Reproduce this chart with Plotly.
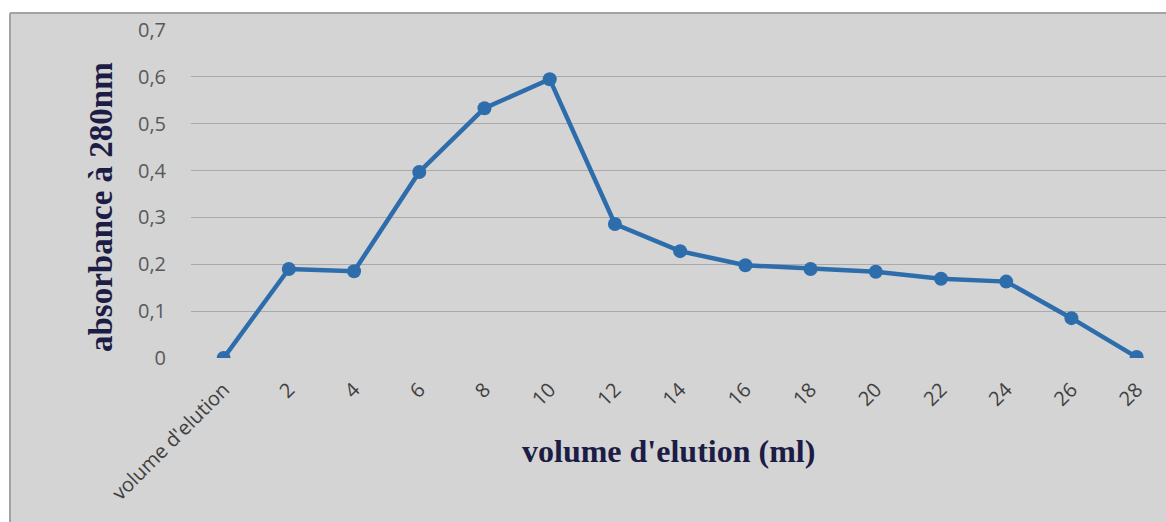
import plotly.graph_objects as go

categories = ["volume d'elution", "2", "4", "6", "8", "10", "12", "14", "16", "18",
              "20", "22", "24", "26", "28"]
absorbance = [0.0, 0.19, 0.185, 0.397, 0.533, 0.595, 0.286, 0.228, 0.198, 0.19,
              0.184, 0.169, 0.163, 0.085, 0.002]
y_tickvals = [0, 0.1, 0.2, 0.3, 0.4, 0.5, 0.6, 0.7]
y_ticktext = ["0", "0,1", "0,2", "0,3", "0,4", "0,5", "0,6", "0,7"]

W, H = 1166, 522
ML, MR, MT, MB = 191, 0, 30, 164
PW, PH = W - ML - MR, H - MT - MB

def px(x):
    return (x - ML) / PW

def py(y):
    return (H - MB - y) / PH

BG = "#d4d4d4"
NAVY = "#1c1c44"

fig = go.Figure()
fig.add_trace(go.Scatter(
    x=list(range(len(categories))), y=absorbance, mode="lines+markers",
    line=dict(color="#2e6dab", width=4.5),
    marker=dict(color="#2e6dab", size=14),
    showlegend=False,
))

fig.update_layout(
    width=W, height=H,
    margin=dict(l=ML, r=MR, t=MT, b=MB),
    paper_bgcolor=BG, plot_bgcolor=BG,
    xaxis=dict(
        range=[-0.5, 14.45], tickmode="array",
        tickvals=list(range(len(categories))), ticktext=categories,
        tickangle=-45, showgrid=False, zeroline=False, showline=False,
        ticks="", tickfont=dict(family="Open Sans, Calibri, sans-serif", size=20, color="#404040"),
        ticklabelstandoff=15,
    ),
    yaxis=dict(
        range=[0, 0.7], tickmode="array", tickvals=y_tickvals, ticktext=y_ticktext,
        showgrid=True, gridcolor="#aaaaaa", gridwidth=1.2, zeroline=False,
        showline=False, ticks="",
        tickfont=dict(family="Open Sans, Calibri, sans-serif", size=20, color="#595959"),
        ticklabelstandoff=24,
    ),
    shapes=[
        dict(type="rect", xref="paper", yref="paper", x0=px(0), x1=px(W + 5),
             y0=py(13), y1=py(-5), fillcolor="white", line=dict(width=0), layer="above"),
        dict(type="rect", xref="paper", yref="paper", x0=px(-5), x1=px(10),
             y0=py(H + 5), y1=py(-5), fillcolor="white", line=dict(width=0), layer="above"),
        dict(type="line", xref="paper", yref="paper", x0=px(10), x1=px(W + 5),
             y0=py(13), y1=py(13), line=dict(color="#a3a3a3", width=2), layer="above"),
        dict(type="line", xref="paper", yref="paper", x0=px(10), x1=px(10),
             y0=py(13), y1=py(H + 5), line=dict(color="#a3a3a3", width=2), layer="above"),
    ],
    annotations=[
        dict(text="<b>absorbance à 280nm</b>", xref="paper", yref="paper",
             x=px(101), y=py(207), xanchor="center", yanchor="middle",
             textangle=-90, showarrow=False,
             font=dict(family="Liberation Serif, Times New Roman, serif", size=33, color=NAVY)),
        dict(text="<b>volume d'elution (ml)</b>", xref="paper", yref="paper",
             x=px(668), y=py(451), xanchor="center", yanchor="middle", showarrow=False,
             font=dict(family="Liberation Serif, Times New Roman, serif", size=32, color=NAVY)),
    ],
)

fig.write_html("out.html", config={"displayModeBar": False},
               post_script="document.body.style.margin='0';")
